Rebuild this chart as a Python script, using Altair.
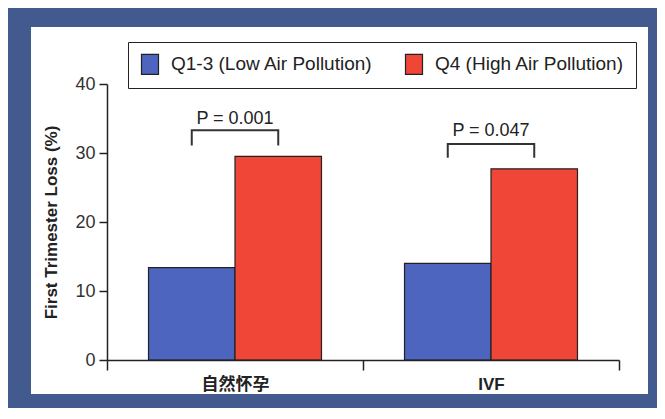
import altair as alt
import pandas as pd

# ---- data ----
groups = ["自然怀孕", "IVF"]
series = ["Q1-3 (Low Air Pollution)", "Q4 (High Air Pollution)"]
low_values = [13.4, 14.0]
high_values = [29.5, 27.7]
p_labels = ["P = 0.001", "P = 0.047"]
bracket_top = [33.3, 31.3]
bracket_leg = [31.1, 29.3]
p_label_y = [34.9, 33.2]
y_ticks = [0, 5, 10, 15, 20, 25, 30, 35, 40]
colors = ["#4e65bf", "#ef4637"]

FONT = "Liberation Sans"
INK = "#222222"

bars_df = pd.DataFrame(
    [{"group": g, "series": series[0], "value": v} for g, v in zip(groups, low_values)]
    + [{"group": g, "series": series[1], "value": v} for g, v in zip(groups, high_values)]
)

bracket_rows = []
for g, top, leg in zip(groups, bracket_top, bracket_leg):
    bracket_rows += [
        {"group": g, "series": series[0], "value": leg, "ord": 0},
        {"group": g, "series": series[0], "value": top, "ord": 1},
        {"group": g, "series": series[1], "value": top, "ord": 2},
        {"group": g, "series": series[1], "value": leg, "ord": 3},
    ]
bracket_df = pd.DataFrame(bracket_rows)

text_df = pd.DataFrame({"group": groups, "label": p_labels, "value": p_label_y})

x_scale = alt.Scale(domain=groups, paddingInner=0, paddingOuter=0)
off_scale = alt.Scale(domain=series, paddingInner=0, paddingOuter=0.48)
y_scale = alt.Scale(domain=[0, 40], nice=False)

panel = alt.Chart(alt.Data(values=[{}])).mark_rect(color="white").encode(
    x=alt.value(-76), x2=alt.value(541), y=alt.value(-57), y2=alt.value(310)
)

bars = alt.Chart(bars_df).mark_bar(stroke=INK, strokeWidth=1.2).encode(
    x=alt.X(
        "group:N",
        sort=groups,
        scale=x_scale,
        axis=alt.Axis(
            title=None,
            labelAngle=0,
            tickBand="extent",
            tickSize=10,
            tickWidth=1.5,
            tickColor=INK,
            domainColor=INK,
            domainWidth=1.5,
            labelFont="Liberation Sans, Noto Sans CJK SC",
            labelFontSize=17,
            labelFontWeight="bold",
            labelColor=INK,
            labelPadding=6,
            zindex=2,
        ),
    ),
    xOffset=alt.XOffset("series:N", scale=off_scale),
    y=alt.Y(
        "value:Q",
        scale=y_scale,
        axis=alt.Axis(
            values=y_ticks,
            labelExpr="datum.value % 10 == 0 ? datum.label : ''",
            title="First Trimester Loss (%)",
            titleFont=FONT,
            titleFontSize=17,
            titleFontWeight="bold",
            titleColor=INK,
            titlePadding=14,
            grid=False,
            tickSize=8,
            tickWidth=1.5,
            tickColor=INK,
            domainColor=INK,
            domainWidth=1.5,
            labelFont=FONT,
            labelFontSize=18,
            labelColor="#333333",
            labelPadding=4,
            zindex=2,
        ),
    ),
    color=alt.Color(
        "series:N",
        scale=alt.Scale(domain=series, range=colors),
        legend=alt.Legend(
            orient="none",
            legendX=21,
            legendY=-42,
            direction="horizontal",
            columns=2,
            title=None,
            strokeColor=INK,
            fillColor="white",
            padding=11,
            symbolType="M-0.85,-1L0.85,-1L0.85,1L-0.85,1Z",
            symbolSize=400,
            symbolStrokeColor=INK,
            symbolStrokeWidth=1.2,
            symbolOpacity=1,
            labelFont=FONT,
            labelFontSize=19,
            labelColor=INK,
            labelOffset=10,
            labelLimit=400,
            columnPadding=30,
        ),
    ),
)

brackets = alt.Chart(bracket_df).mark_line(color="#333333", strokeWidth=2).encode(
    x=alt.X("group:N", sort=groups, scale=x_scale),
    xOffset=alt.XOffset("series:N", scale=off_scale),
    y=alt.Y("value:Q", scale=y_scale),
    order="ord:Q",
    detail="group:N",
)

ptext = alt.Chart(text_df).mark_text(
    font=FONT, fontSize=18, color=INK, baseline="middle", align="center"
).encode(
    x=alt.X("group:N", sort=groups, scale=x_scale),
    y=alt.Y("value:Q", scale=y_scale),
    text="label:N",
)

chart = (
    alt.layer(panel, bars, brackets, ptext)
    .properties(
        width=512,
        height=276,
        autosize=alt.AutoSizeParams(type="none"),
        padding={"left": 99, "top": 76, "right": 38, "bottom": 48},
    )
    .configure(background="#425a8e")
    .configure_view(stroke=None)
)

chart.save("out.html", embed_options={"renderer": "svg", "actions": False})
